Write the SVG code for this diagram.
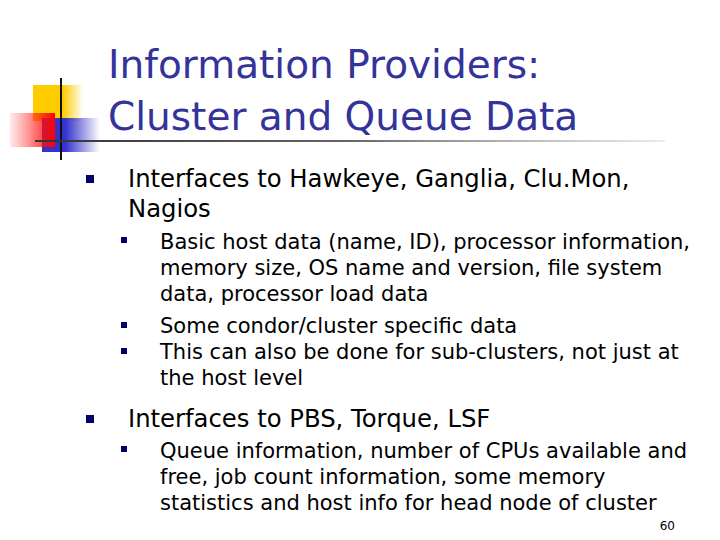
<svg xmlns="http://www.w3.org/2000/svg" width="720" height="540" viewBox="0 0 720 540">
<defs>
<linearGradient id="gy" x1="0" x2="1"><stop offset="0" stop-color="#ffcc00"/><stop offset="0.6" stop-color="#ffcc00"/><stop offset="1" stop-color="#ffcc00" stop-opacity="0"/></linearGradient>
<linearGradient id="gr" x1="0" x2="1"><stop offset="0" stop-color="#ff3333" stop-opacity="0.1"/><stop offset="1" stop-color="#ff0000"/></linearGradient>
<linearGradient id="gb" x1="0" x2="1"><stop offset="0" stop-color="#3333cc"/><stop offset="0.4" stop-color="#3333cc"/><stop offset="1" stop-color="#3333cc" stop-opacity="0"/></linearGradient>
<linearGradient id="gl" x1="0" x2="1"><stop offset="0" stop-color="#333333"/><stop offset="0.5" stop-color="#666666"/><stop offset="1" stop-color="#999999" stop-opacity="0.2"/></linearGradient>
<style>
.t{font-family:"DejaVu Sans",sans-serif;fill:#333399;font-size:39px}
.b1{font-family:"DejaVu Sans",sans-serif;fill:#000;font-size:24.3px}
.b2{font-family:"DejaVu Sans",sans-serif;fill:#000;font-size:21px}
.sq{fill:#000066}
</style>
</defs>
<g id="logo">
<rect x="33" y="85" width="50" height="36" fill="url(#gy)"/>
<rect x="42" y="118" width="58" height="34" fill="url(#gb)"/>
<rect x="10" y="113" width="45" height="34" fill="url(#gr)"/>
<line x1="61" y1="78" x2="61" y2="160" stroke="#111" stroke-width="2"/>
<rect x="35" y="140" width="630" height="2" fill="url(#gl)"/>
</g>
<g id="title">
<text class="t" x="108" y="78">Information Providers:</text>
<text class="t" x="108" y="130">Cluster and Queue Data</text>
</g>
<g id="body">
<rect class="sq" x="86" y="175" width="8" height="8"/>
<text class="b1" x="128" y="187">Interfaces to Hawkeye, Ganglia, Clu.Mon,</text>
<text class="b1" x="128" y="217">Nagios</text>
<rect class="sq" x="121" y="237" width="6" height="6"/>
<text class="b2" x="160" y="249">Basic host data (name, ID), processor information,</text>
<text class="b2" x="160" y="275">memory size, OS name and version, file system</text>
<text class="b2" x="160" y="301">data, processor load data</text>
<rect class="sq" x="121" y="322" width="6" height="6"/>
<text class="b2" x="160" y="333">Some condor/cluster specific data</text>
<rect class="sq" x="121" y="348" width="6" height="6"/>
<text class="b2" x="160" y="359">This can also be done for sub-clusters, not just at</text>
<text class="b2" x="160" y="385">the host level</text>
<rect class="sq" x="86" y="415" width="8" height="8"/>
<text class="b1" x="128" y="427">Interfaces to PBS, Torque, LSF</text>
<rect class="sq" x="121" y="446" width="6" height="6"/>
<text class="b2" x="160" y="458">Queue information, number of CPUs available and</text>
<text class="b2" x="160" y="484">free, job count information, some memory</text>
<text class="b2" x="160" y="510">statistics and host info for head node of cluster</text>
<text x="675" y="530" style="font-family:'DejaVu Sans',sans-serif;font-size:12px;fill:#000" text-anchor="end">60</text>
</g>
</svg>
